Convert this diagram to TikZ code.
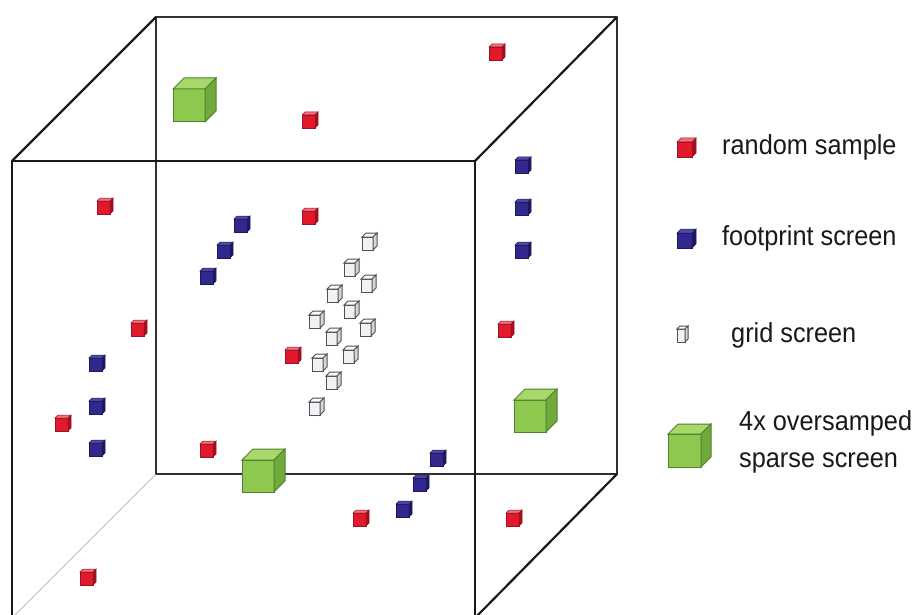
\documentclass[tikz,border=0pt]{standalone}
\usepackage{fontspec}
\setmainfont{Liberation Sans}[FakeStretch=0.92]
\definecolor{redF}{RGB}{226,24,44}
\definecolor{redT}{RGB}{240,110,120}
\definecolor{redS}{RGB}{165,14,30}
\definecolor{redE}{RGB}{150,20,35}
\definecolor{blueF}{RGB}{48,40,140}
\definecolor{blueT}{RGB}{80,72,170}
\definecolor{blueS}{RGB}{30,24,100}
\definecolor{blueE}{RGB}{30,25,90}
\definecolor{greenF}{RGB}{142,200,78}
\definecolor{greenT}{RGB}{168,216,108}
\definecolor{greenS}{RGB}{112,170,60}
\definecolor{greenE}{RGB}{80,130,45}
\definecolor{gridF}{RGB}{242,242,246}
\definecolor{gridT}{RGB}{252,252,252}
\definecolor{gridS}{RGB}{212,212,218}
\definecolor{gridE}{RGB}{80,80,85}
\definecolor{edgeC}{RGB}{25,25,25}
\tikzset{
  redfront/.style={fill=redF,draw=redE,line width=0.5pt},
  redtop/.style={fill=redT,draw=redE,line width=0.5pt},
  redside/.style={fill=redS,draw=redE,line width=0.5pt},
  bluefront/.style={fill=blueF,draw=blueE,line width=0.5pt},
  bluetop/.style={fill=blueT,draw=blueE,line width=0.5pt},
  blueside/.style={fill=blueS,draw=blueE,line width=0.5pt},
  greenfront/.style={fill=greenF,draw=greenE,line width=1pt},
  greentop/.style={fill=greenT,draw=greenE,line width=1pt},
  greenside/.style={fill=greenS,draw=greenE,line width=1pt},
  gridfront/.style={fill=gridF,draw=gridE,line width=1pt},
  gridtop/.style={fill=gridT,draw=gridE,line width=1pt},
  gridside/.style={fill=gridS,draw=gridE,line width=1pt},
  frontedge/.style={draw=edgeC,line width=2.2pt,line join=round},
  backedge/.style={draw=edgeC!90,line width=1.5pt,line join=round},
  faintedge/.style={draw=black!25,line width=1pt},
  legendtext/.style={anchor=base west,inner sep=0pt,font=\fontsize{27.5}{30}\selectfont,text=black!90}
}
% x left, y top of front face, width, height, depth, scheme
\newcommand\drawcube[6]{%
  \filldraw[#6front] (#1,#2) rectangle ++(#3,#4);
  \filldraw[#6top] (#1,#2) -- ++(#5,-#5) -- ++(#3,0) -- ++(-#5,#5) -- cycle;
  \filldraw[#6side] (#1+#3,#2) -- ++(#5,-#5) -- ++(0,#4) -- ++(-#5,#5) -- cycle;
}
\newcommand\rcube[2]{\drawcube{#1-8}{#2-5}{13}{13}{3}{red}}
\newcommand\bcube[2]{\drawcube{#1-8}{#2-5}{13}{13}{3}{blue}}
\newcommand\gcube[2]{\drawcube{#1-7}{#2-5}{11}{13}{4}{grid}}
\begin{document}
\begin{tikzpicture}[x=1pt,y=-1pt]
\useasboundingbox (0,0) rectangle (916,615);
\clip (0,0) rectangle (916,615);
\fill[white] (0,0) rectangle (916,615);
% frame
\coordinate (B1) at (156,17);
\coordinate (B2) at (617,17);
\coordinate (B3) at (617,474);
\coordinate (B4) at (156,474);
\coordinate (F1) at (12,161);
\coordinate (F2) at (475,161);
\coordinate (F3) at (475,618);
\coordinate (F4) at (12,618);
\draw[faintedge] (B4) -- (F4);
\draw[backedge] (B1) -- (B2) -- (B3) -- (B4) -- cycle;
\draw[frontedge] (F4) -- (F1) -- (F2) -- (F3);
\draw[frontedge] (F1) -- (B1);
\draw[frontedge] (F2) -- (B2);
\draw[frontedge] (F3) -- (B3);
% random sample
\rcube{497}{52}
\rcube{310}{120}
\rcube{105}{206}
\rcube{310}{216}
\rcube{139}{328}
\rcube{293}{355}
\rcube{506}{329}
\rcube{63}{423}
\rcube{208}{449}
\rcube{361}{518}
\rcube{514}{518}
\rcube{88}{577}
% footprint screen
\bcube{523}{165}
\bcube{523}{207}
\bcube{523}{250}
\bcube{242}{224}
\bcube{225}{250}
\bcube{208}{276}
\bcube{97}{363}
\bcube{97}{406}
\bcube{97}{448}
\bcube{438}{458}
\bcube{421}{483}
\bcube{404}{509}
% grid screen
\gcube{369}{242}
\gcube{351}{268}
\gcube{368}{284}
\gcube{334}{294}
\gcube{351}{310}
\gcube{316}{320}
\gcube{367}{328}
\gcube{333}{337}
\gcube{350}{355}
\gcube{319}{363}
\gcube{333}{381}
\gcube{316}{407}
% oversampled sparse screen
\drawcube{173}{89}{32}{33}{11}{green}
\drawcube{242}{460}{32}{32}{11}{green}
\drawcube{514}{400}{32}{32}{11}{green}
% legend
\drawcube{677}{142}{15}{15}{4}{red}
\drawcube{677}{233}{15}{15}{4}{blue}
\drawcube{677}{329}{8}{13}{3}{grid}
\drawcube{668}{434}{33}{33}{10}{green}
\node[legendtext] (t1) at (722,155) {random sample};
\node[legendtext] (t2) at (722,245) {footprint screen};
\node[legendtext] (t3) at (731,342) {grid screen};
\node[legendtext] (t4) at (739,430) {4x oversamped};
\node[legendtext] (t5) at (739,467) {sparse screen};
\end{tikzpicture}
\end{document}
